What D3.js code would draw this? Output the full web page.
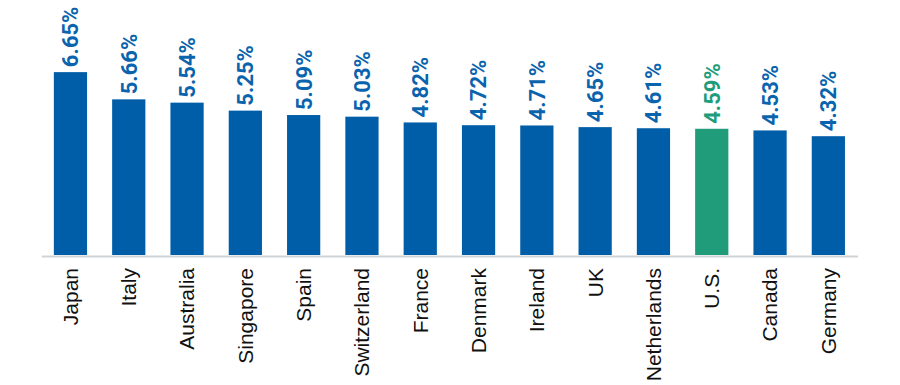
<!DOCTYPE html>
<html>
<head>
<meta charset="utf-8">
<script src="https://cdn.jsdelivr.net/npm/d3@7"></script>
<style>
  body { margin: 0; background: #fff; }
  .valueText { font-family: Roboto, "Liberation Sans", sans-serif; font-weight: bold; font-size: 22px; }
  .catText { font-family: "Liberation Sans", Arial, sans-serif; font-size: 21px; fill: #111; }
</style>
</head>
<body>
<div id="chart"></div>
<script>
var svgWidth = 900;
var svgHeight = 385;

// data
var countries = ["Japan", "Italy", "Australia", "Singapore", "Spain", "Switzerland", "France",
  "Denmark", "Ireland", "UK", "Netherlands", "U.S.", "Canada", "Germany"];
var rates = [6.65, 5.66, 5.54, 5.25, 5.09, 5.03, 4.82, 4.72, 4.71, 4.65, 4.61, 4.59, 4.53, 4.32];
var highlight = "U.S.";

var blue = "#005ea8";
var green = "#219c7b";

var svg = d3.select("#chart")
  .append("svg")
  .attr("width", svgWidth)
  .attr("height", svgHeight);

var baseline = 255;

// x scale: one band per country
var xScale = d3.scaleBand()
  .domain(countries)
  .range([41.3, 857.5])
  .paddingInner(0.43)
  .paddingOuter(0.215);

// y scale: percent to pixels
var yScale = d3.scaleLinear()
  .domain([0, 7])
  .range([baseline, baseline - 7 * 27.5]);

var data = countries.map(function(c, i) { return { name: c, value: rates[i] }; });

// bars
svg.selectAll("rect.bar")
  .data(data)
  .enter()
  .append("rect")
  .attr("class", "bar")
  .attr("x", d => xScale(d.name))
  .attr("y", d => yScale(d.value))
  .attr("width", xScale.bandwidth())
  .attr("height", d => yScale(0) - yScale(d.value))
  .attr("fill", d => d.name == highlight ? green : blue);

// baseline axis
var bottomAxis = d3.axisBottom(xScale).tickSize(0).tickFormat("");
var axisGroup = svg.append("g")
  .attr("transform", `translate(0, ${baseline + 1})`)
  .call(bottomAxis);
axisGroup.select(".domain")
  .attr("stroke", "#d0d3d6")
  .attr("stroke-width", 2);

// value labels, rotated
svg.selectAll(".valueText")
  .data(data)
  .enter()
  .append("text")
  .attr("class", "valueText")
  .attr("transform", d => `translate(${xScale(d.name) + xScale.bandwidth() / 2}, ${yScale(d.value) - 5}) rotate(-90)`)
  .attr("dy", "0.36em")
  .attr("fill", d => d.name == highlight ? green : "#0a64ad")
  .text(d => d.value.toFixed(2) + "%");

// country labels under the axis
svg.selectAll(".catText")
  .data(data)
  .enter()
  .append("text")
  .attr("class", "catText")
  .attr("text-anchor", "end")
  .attr("transform", d => `translate(${xScale(d.name) + xScale.bandwidth() / 2}, ${baseline + 13}) rotate(-90)`)
  .attr("dy", "0.35em")
  .text(d => d.name);
</script>
</body>
</html>
